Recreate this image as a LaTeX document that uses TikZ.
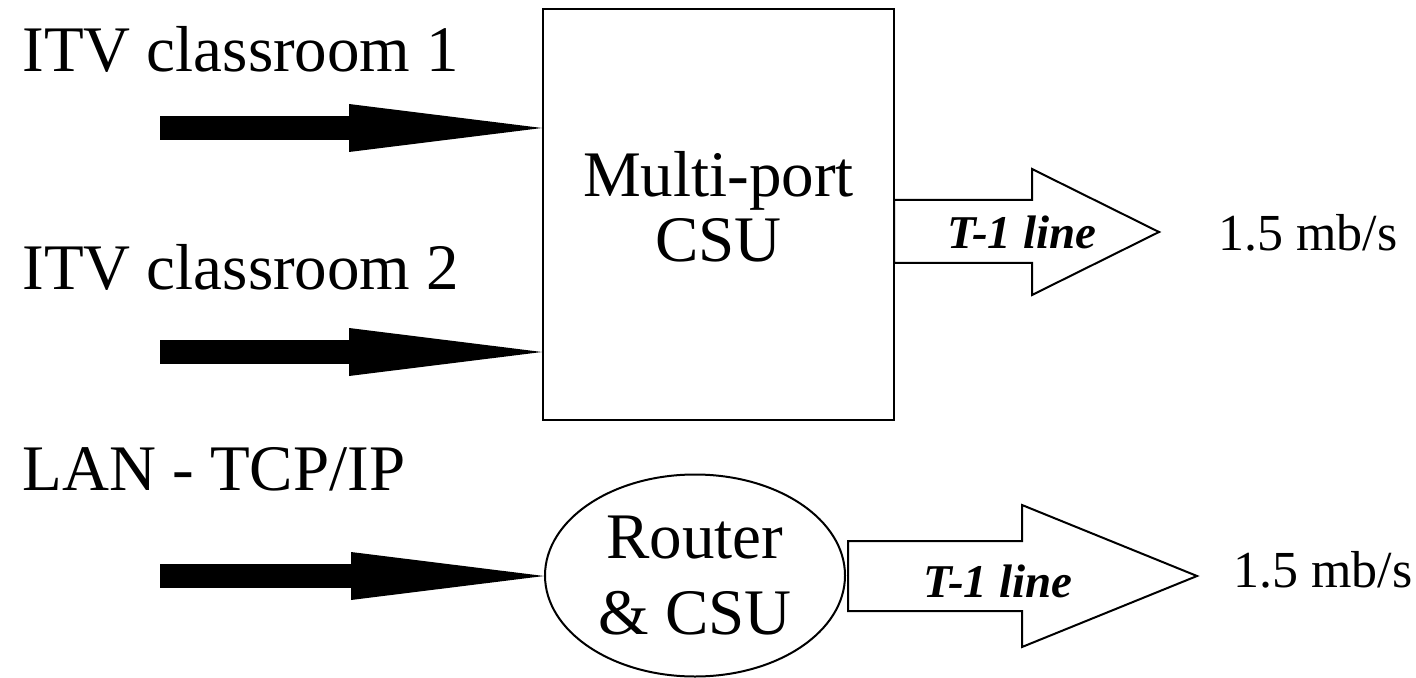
\documentclass[tikz,border=0pt]{standalone}
\usepackage{fontspec}
\setmainfont{Liberation Serif}
\usetikzlibrary{arrows.meta,shapes.geometric,positioning}
\tikzset{
    % Source labels on the left
    srclabel/.style={
        anchor=base west, inner sep=0pt,
        font=\fontsize{32.5}{38}\selectfont
    },
    % Thick black feed arrows
    feed/.style={
        line width=12pt,
        -{Triangle[length=96.5pt, width=24pt, line width=0pt]}
    },
    % Multi-port CSU box
    csubox/.style={
        rectangle, draw, line width=1pt,
        minimum width=175.5pt, minimum height=205.5pt
    },
    boxtext/.style={
        align=center, inner sep=0pt,
        font=\fontsize{32.5}{32.5}\selectfont
    },
    % Router ellipse
    routerell/.style={
        ellipse, draw, line width=1pt, inner sep=0pt,
        minimum width=150pt, minimum height=101pt,
        align=center, font=\fontsize{32.5}{38}\selectfont
    },
    % Open T-1 block arrows
    trunk/.style={draw, line width=1pt, fill=white, line join=miter},
    trunklabel/.style={
        anchor=base, inner sep=0pt,
        font=\fontsize{23.5}{28}\selectfont\bfseries\itshape
    },
    % Line rate labels
    ratelabel/.style={
        anchor=base west, inner sep=0pt,
        font=\fontsize{26}{30}\selectfont
    }
}
\begin{document}
\begin{tikzpicture}[x=0.5pt, y=-0.5pt]

\useasboundingbox (0,0) rectangle (1416,678);

% Multiplexer and router
\node[csubox] (csu) at (718.5,214.5) {};
\node[boxtext] (csutext) at (718.5,207) {Multi-port\\CSU};
\node[routerell] (router) at (695,575.5) {Router\\\& CSU};

% Sources
\node[srclabel] (itvone) at (22,72) {ITV classroom 1};
\node[srclabel] (itvtwo) at (22,290) {ITV classroom 2};
\node[srclabel] (lan) at (22,490) {LAN - TCP/IP};

\coordinate (srcone) at (160,128);
\coordinate (srctwo) at (160,352);
\coordinate (srcthree) at (160,576);

\draw[feed] (srcone) -- (srcone -| csu.west);
\draw[feed] (srctwo) -- (srctwo -| csu.west);
\draw[feed] (srcthree) -- (srcthree -| router.west);

% T-1 line out of the CSU
\draw[trunk] (894,200) -- (1032,200) -- (1032,169) -- (1159,232)
    -- (1032,295) -- (1032,263) -- (894,263) -- cycle;
\node[trunklabel] (trunkone) at (1022,249) {T-1 line};
\node[ratelabel] (rateone) at (1218,251) {1.5 mb/s};

% T-1 line out of the router
\draw[trunk] (848,541) -- (1022,541) -- (1022,505) -- (1197,576)
    -- (1022,647) -- (1022,611) -- (848,611) -- cycle;
\node[trunklabel] (trunktwo) at (998,597) {T-1 line};
\node[ratelabel] (ratetwo) at (1233,587) {1.5 mb/s};

\end{tikzpicture}
\end{document}
